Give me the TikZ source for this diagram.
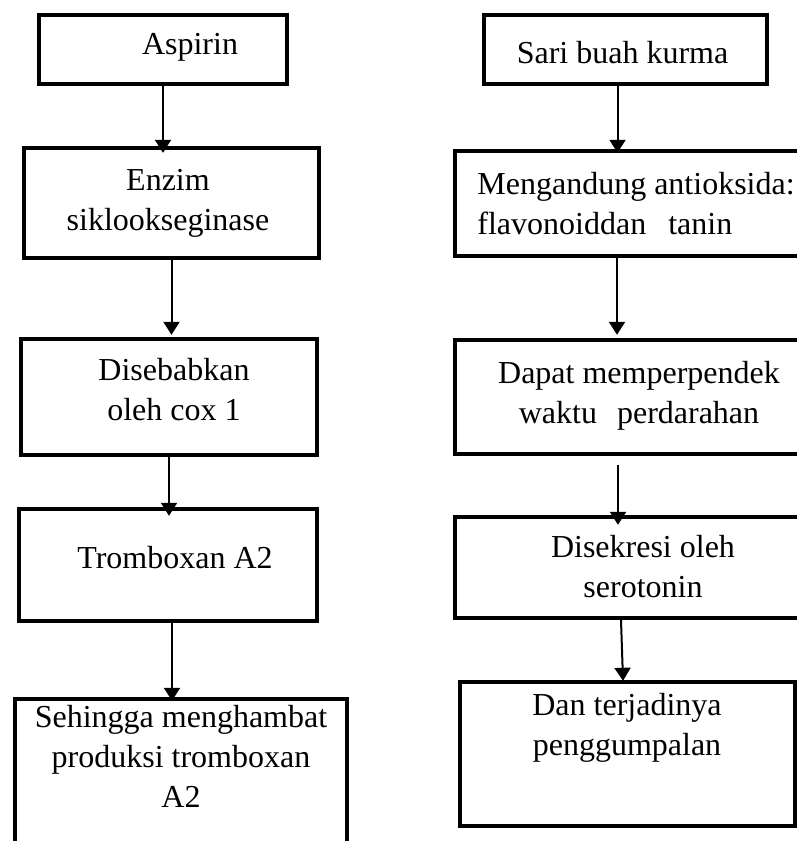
\documentclass[tikz,border=0pt]{standalone}
\usepackage{fontspec}
\setmainfont{Liberation Serif}
\usetikzlibrary{arrows.meta}

\begin{document}
\begin{tikzpicture}[x=0.5pt, y=-0.5pt,
    flowBox/.style={draw, line width=2.2pt, inner sep=0pt},
    flowText/.style={font=\fontsize{16}{20}\selectfont, inner sep=0pt, anchor=base, align=center},
    flowArrow/.style={line width=1pt, -{Triangle[width=8pt, length=6.5pt]}}]
  \useasboundingbox (0, 0) rectangle (797, 841);
  \clip (0, 0) rectangle (797, 841);
  %
  % left column
  \node[flowBox, minimum width=124pt, minimum height=34.5pt] at (163, 49.5) (aspirin) {};
  \node[flowBox, minimum width=147.5pt, minimum height=55pt] at (171.5, 203) (enzim) {};
  \node[flowBox, minimum width=148pt, minimum height=58pt] at (169, 397) (cox) {};
  \node[flowBox, minimum width=149pt, minimum height=56pt] at (168, 565) (tromb) {};
  \node[flowBox, minimum width=166pt, minimum height=100.5pt] at (181, 799.5) (hambat) {};
  %
  % (base of a text block = baseline of its last line)
  \node[flowText] at (190, 54) (aspirinText) {Aspirin};
  \node[flowText] at (168, 230) (enzimText) {Enzim\\siklookseginase};
  \node[flowText] at (174, 420) (coxText) {Disebabkan\\oleh cox 1};
  \node[flowText] at (175, 568) (trombText) {Tromboxan A2};
  \node[flowText] at (181, 807) (hambatText) {Sehingga menghambat\\produksi tromboxan\\A2};
  %
  % right column
  \node[flowBox, minimum width=141.5pt, minimum height=34.5pt] at (625.5, 49.5) (sari) {};
  \node[flowBox, minimum width=222.5pt, minimum height=52.5pt] at (677.5, 203.5) (antiox) {};
  \node[flowBox, minimum width=222.5pt, minimum height=57pt] at (677.5, 397) (pendek) {};
  \node[flowBox, minimum width=222.5pt, minimum height=50.5pt] at (677.5, 567.5) (sekresi) {};
  \node[flowBox, minimum width=167.5pt, minimum height=72pt] at (627.5, 754) (gumpal) {};
  %
  \node[flowText] at (622.5, 63) (sariText) {Sari buah kurma};
  \node[flowText, anchor=base west, align=left] at (477, 234) (antioxText)
    {Mengandung antioksida:\\flavonoiddan\hspace{11pt}tanin};
  \node[flowText] at (639, 423) (pendekText) {Dapat memperpendek\\waktu\hspace{10pt}perdarahan};
  \node[flowText] at (643, 597) (sekresiText) {Disekresi oleh\\serotonin};
  \node[flowText] at (627, 755) (gumpalText) {Dan terjadinya\\penggumpalan};
  %
  % connectors
  \draw[flowArrow, shorten >=-3.5pt] (aspirin.south) -- (aspirin.south |- enzim.north);
  \draw[flowArrow, shorten >=1pt] (enzim.south) -- (enzim.south |- cox.north);
  \draw[flowArrow, shorten >=-4.5pt] (cox.south) -- (cox.south |- tromb.north);
  \draw[flowArrow, shorten >=-2pt]
    ([xshift=2pt]tromb.south) -- ([xshift=2pt]tromb.south |- hambat.north);
  %
  \draw[flowArrow, shorten >=-2pt]
    ([xshift=-4pt]sari.south) -- ([xshift=-4pt]sari.south |- antiox.north);
  \draw[flowArrow, shorten >=1.5pt]
    ([xshift=-30.25pt]antiox.south) -- ([xshift=-30.25pt]antiox.south |- pendek.north);
  \draw[flowArrow, shorten <=4.5pt, shorten >=-5pt]
    ([xshift=-29.75pt]pendek.south) -- ([xshift=-29.75pt]pendek.south |- sekresi.north);
  \draw[flowArrow, shorten >=-0.5pt]
    ([xshift=-28.25pt]sekresi.south) -- ([xshift=-2.25pt]gumpal.north);
\end{tikzpicture}
\end{document}
